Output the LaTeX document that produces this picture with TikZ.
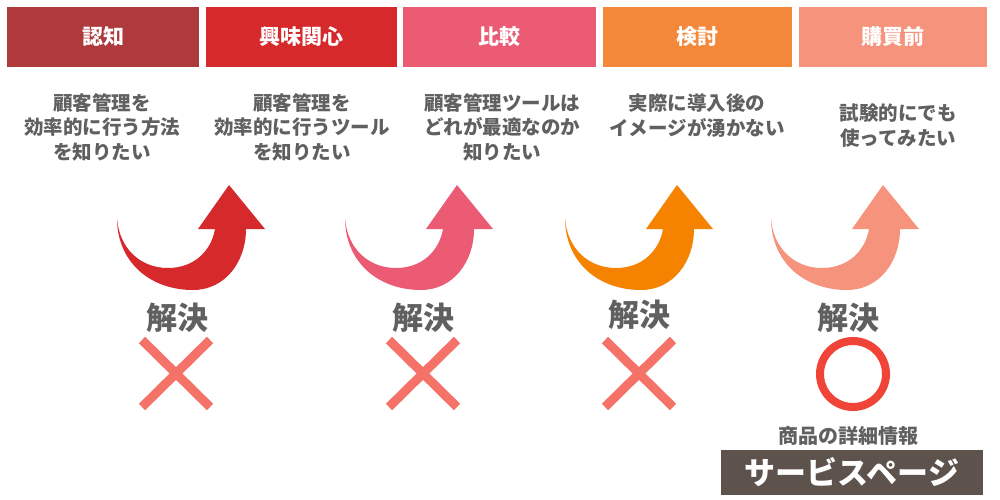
\documentclass[tikz,border=0pt]{standalone}
\usepackage{fontspec}
\setmainfont{Noto Sans CJK JP}
\usepackage{tikz}
\definecolor{stageA}{HTML}{AE3A3E}
\definecolor{stageB}{HTML}{D6292C}
\definecolor{stageC}{HTML}{EC5B74}
\definecolor{stageD}{HTML}{F3883A}
\definecolor{stageE}{HTML}{F6937D}
\definecolor{arrowD}{HTML}{F58300}
\definecolor{txtgray}{HTML}{606060}
\definecolor{ngred}{HTML}{F47268}
\definecolor{okred}{HTML}{F04438}
\definecolor{pagebox}{HTML}{5E524D}
\tikzstyle{every node}=[inner sep=0pt]
\tikzstyle{stagebar}=[minimum height=60pt,text=white,font=\fontsize{21}{21}\selectfont\bfseries]
\tikzstyle{wish}=[align=center,anchor=north,text=txtgray,font=\fontsize{19.5}{24.5}\selectfont\bfseries]
\tikzstyle{solve}=[text=txtgray,font=\fontsize{31}{31}\selectfont\bfseries]
\tikzstyle{ngline}=[ngred,line width=9pt]
% curved arrow, left tip at x=117
\newcommand{\bentarrow}[2]{%
 \fill[#2,xshift=#1] (117,218) .. controls (117,262) and (150,290) .. (193,290)
  .. controls (225,290) and (246,262) .. (246,229) -- (265,229) -- (229,185)
  -- (198,229) -- (215,229) .. controls (211,252) and (193,268) .. (168,268)
  .. controls (140,268) and (119,248) .. (117,218) -- cycle;}

\begin{document}
\begin{tikzpicture}[x=1pt,y=-1pt]
 \useasboundingbox[fill=white] (0,0) rectangle (1000,500);
 % stage bars
 \node[stagebar,fill=stageA,minimum width=192pt] (bar1) at (103,37) {認知};
 \node[stagebar,fill=stageB,minimum width=191pt] (bar2) at (301.5,37) {興味関心};
 \node[stagebar,fill=stageC,minimum width=193pt] (bar3) at (499.5,37) {比較};
 \node[stagebar,fill=stageD,minimum width=189pt] (bar4) at (697.5,37) {検討};
 \node[stagebar,fill=stageE,minimum width=188pt] (bar5) at (893,37) {購買前};
 % wishes
 \node[wish] (wish1) at (102,93) {顧客管理を\\効率的に行う方法\\を知りたい};
 \node[wish] (wish2) at (302,93) {顧客管理を\\効率的に行うツール\\を知りたい};
 \node[wish] (wish3) at (502,93) {顧客管理ツールは\\どれが最適なのか\\知りたい};
 \node[wish] (wish4) at (697,94) {実際に導入後の\\イメージが湧かない};
 \node[wish] (wish5) at (898,104) {試験的にでも\\使ってみたい};
 % arrows
 \bentarrow{0pt}{stageB}
 \bentarrow{228pt}{stageC}
 \bentarrow{448pt}{arrowD}
 \bentarrow{654pt}{stageE}
 % results
 \node[solve] (solve1) at (177,318) {解決};
 \node[solve] (solve2) at (423,318) {解決};
 \node[solve] (solve3) at (639,315) {解決};
 \node[solve] (solve4) at (848,318) {解決};
 \draw[ngline] (142,340) -- (210,407);
 \draw[ngline] (142,407) -- (210,340);
 \draw[ngline] (389,340) -- (457,407);
 \draw[ngline] (389,407) -- (457,340);
 \draw[ngline] (605,340) -- (673,407);
 \draw[ngline] (605,407) -- (673,340);
 \draw[okred,line width=8pt] (853,374) circle (33pt);
 \node[text=txtgray,font=\fontsize{20}{20}\selectfont\bfseries] (detail) at (848,436) {商品の詳細情報};
 \node[fill=pagebox,minimum width=262pt,minimum height=45pt,text=white,
  font=\fontsize{31}{31}\selectfont\bfseries] (svcpage) at (852,472.5) {サービスページ};
\end{tikzpicture}
\end{document}
